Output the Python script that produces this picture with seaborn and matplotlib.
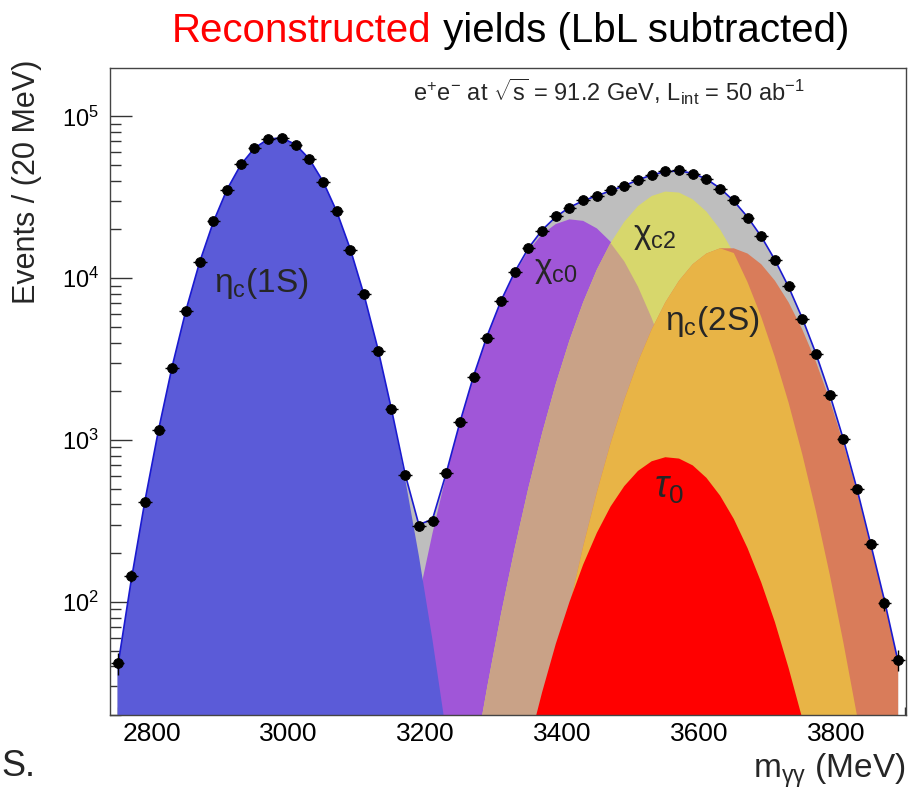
import numpy as np
import matplotlib
matplotlib.use("Agg")
import matplotlib.pyplot as plt
from matplotlib.ticker import MultipleLocator
import seaborn as sns

# bin centres (MeV), 20 MeV bins
mass = [2750, 2770, 2790, 2810, 2830, 2850, 2870, 2890, 2910, 2930,
        2950, 2970, 2990, 3010, 3030, 3050, 3070, 3090, 3110, 3130,
        3150, 3170, 3190, 3210, 3230, 3250, 3270, 3290, 3310, 3330,
        3350, 3370, 3390, 3410, 3430, 3450, 3470, 3490, 3510, 3530,
        3550, 3570, 3590, 3610, 3630, 3650, 3670, 3690, 3710, 3730,
        3750, 3770, 3790, 3810, 3830, 3850, 3870, 3890]

# pseudo-data points
counts = [42, 145, 412, 1160, 2800, 6300, 12600, 22500, 35200, 50500,
          63500, 72800, 73200, 66500, 54800, 39500, 26100, 15000, 7950, 3550,
          1560, 605, 296, 318, 622, 1290, 2450, 4250, 7200, 10900,
          15300, 19700, 24100, 27200, 30300, 32100, 34900, 37100, 40600, 43100,
          45800, 46800, 44200, 41200, 35700, 30200, 23700, 18200, 12900, 8900,
          5600, 3420, 1900, 1020, 500, 228, 98, 44]

# fitted components
eta_c1s = [39, 136, 420, 1160, 2870, 6350, 12600, 22300, 35400, 50200,
           63700, 72400, 73600, 67000, 54600, 39700, 25900, 15100, 7890, 3690,
           1540, 576, 193, 58, 15.5, 3.7, 0.8, 0, 0, 0,
           0, 0, 0, 0, 0, 0, 0, 0, 0, 0,
           0, 0, 0, 0, 0, 0, 0, 0, 0, 0,
           0, 0, 0, 0, 0, 0, 0, 0]

chi_c0 = [0, 0, 0, 0, 0, 0, 0, 0, 0, 0,
          0, 0, 0, 0, 0, 0, 0, 0, 1.2, 4.1,
          13.3, 39, 107, 266, 609, 1280, 2480, 4400, 7170, 10700,
          14800, 18700, 21600, 23100, 22600, 20300, 16800, 12700, 8870, 5670,
          3340, 1800, 893, 407, 170, 65, 23, 7.5, 2.2, 0.6,
          0, 0, 0, 0, 0, 0, 0, 0]

chi_c2 = [0, 0, 0, 0, 0, 0, 0, 0, 0, 0,
          0, 0, 0, 0, 0, 0, 0, 0, 0, 0,
          0, 0, 0, 0, 0, 3.1, 10, 30, 84, 214,
          506, 1100, 2220, 4130, 7100, 11300, 16500, 22300, 27900, 32200,
          34300, 33800, 30700, 25800, 20000, 14300, 9450, 5770, 3250, 1700,
          815, 362, 148, 56, 19.7, 6.4, 1.9, 0.5]

eta_c2s = [0, 0, 0, 0, 0, 0, 0, 0, 0, 0,
           0, 0, 0, 0, 0, 0, 0, 0, 0, 0,
           0, 0, 0, 0, 0, 0, 0, 0, 0, 0,
           4.6, 13.7, 37, 94, 220, 476, 954, 1770, 3040, 4820,
           7090, 9650, 12200, 14200, 15300, 15300, 14200, 12200, 9650, 7090,
           4820, 3040, 1770, 954, 476, 220, 100, 42]

tau_0 = [0, 0, 0, 0, 0, 0, 0, 0, 0, 0,
         0, 0, 0, 0, 0, 0, 0, 0, 0, 0,
         0, 0, 0, 0, 0, 0, 0, 0, 0, 5.6,
         12.9, 27.6, 55, 100, 170, 267, 388, 519, 644, 739,
         783, 768, 697, 584, 453, 325, 215, 132, 75, 39,
         19, 8.5, 3.5, 0, 0, 0, 0, 0]

x_ticks = [2800, 3000, 3200, 3400, 3600, 3800]

sns.set_style("ticks")
plt.rcParams['font.family'] = ['Liberation Sans', 'DejaVu Sans']
plt.rcParams['mathtext.fontset'] = 'custom'
plt.rcParams['mathtext.rm'] = 'Liberation Sans'
plt.rcParams['mathtext.it'] = 'Liberation Sans:italic'
plt.rcParams['mathtext.default'] = 'regular'

fig = plt.figure(figsize=(9.12, 7.89), dpi=100)
ax = fig.add_axes([0.1206, 0.0938, 0.8725, 0.8196])
ax.set_yscale('log')

m = np.array(mass, dtype=float)
n = np.array(counts, dtype=float)
base = 0.01
c1 = np.maximum(np.array(eta_c1s, dtype=float), base)
c0 = np.maximum(np.array(chi_c0, dtype=float), base)
c2 = np.maximum(np.array(chi_c2, dtype=float), base)
e2 = np.maximum(np.array(eta_c2s, dtype=float), base)
t0 = np.maximum(np.array(tau_0, dtype=float), base)
total = c1 + c0 + c2 + e2 + t0

# filled components (overlaps coloured like the hatched ROOT fills)
ax.fill_between(m, total, base, color='#bebebe', lw=0)
ax.fill_between(m, c0, base, color='#a056d8', lw=0)
ax.fill_between(m, c2, base, color='#d7d76c', lw=0)
ax.fill_between(m, np.minimum(c0, c2), base, color='#c9a287', lw=0)
ax.fill_between(m, e2, base, color='#d97c5a', lw=0)
ax.fill_between(m, np.minimum(e2, c2), base, color='#e8b446', lw=0)
ax.fill_between(m, c1, base, color='#5b5bd8', lw=0)
ax.fill_between(m, t0, base, color='#ff0000', lw=0)

sns.lineplot(x=m, y=total, color='#1a1ad0', lw=1.2, ax=ax)

ax.errorbar(m, n, xerr=10, yerr=np.sqrt(n), fmt='none', ecolor='black',
            elinewidth=1, capsize=0, zorder=4)
sns.scatterplot(x=m, y=n, color='black', s=50, edgecolor='black', ax=ax, zorder=5)

ax.set_xlim(2739, 3901)
ax.set_ylim(20, 1.98e5)
ax.set_xticks(x_ticks)
ax.xaxis.set_minor_locator(MultipleLocator(50))
ax.tick_params(axis='both', which='both', direction='in', top=False, right=False,
               colors='#333333', labelcolor='black')
ax.tick_params(axis='y', which='major', length=16, width=1, labelsize=17, pad=8)
ax.tick_params(axis='y', which='minor', length=8, width=1)
ax.tick_params(axis='x', which='major', length=12, width=1, labelsize=19, pad=5)
ax.tick_params(axis='x', which='minor', length=6, width=1)
for s in ax.spines.values():
    s.set_color('#444444')
    s.set_linewidth(1)
ax.set_xlabel('')
ax.set_ylabel('')

# labels
ax.text(2960, 9300, 'η$_{c}$(1S)', fontsize=24, ha='center', va='center')
ax.text(3390, 11200, 'χ$_{c0}$', fontsize=24, ha='center', va='center')
ax.text(3535, 18150, 'χ$_{c2}$', fontsize=24, ha='center', va='center')
ax.text(3618, 5430, 'η$_{c}$(2S)', fontsize=24, ha='center', va='center')
ax.text(3555, 506, r'$\mathit{\tau}_{0}$', fontsize=27, ha='center', va='center')
ax.text(0.381, 0.963, r'e$^{+}$e$^{-}$ at $\sqrt{s}$ = 91.2 GeV, L$_{int}$ = 50 ab$^{-1}$',
        transform=ax.transAxes, fontsize=17, ha='left', va='center')

t1 = fig.text(0.1886, 0.947, 'Reconstructed', color='red', fontsize=29,
              ha='left', va='baseline')
ax.annotate(' yields (LbL subtracted)', xy=(1, 0), xycoords=t1, fontsize=29,
            ha='left', va='bottom', color='black', annotation_clip=False)
fig.text(0.030, 0.924, 'Events / (20 MeV)', rotation=90, fontsize=22,
         ha='center', va='top')
fig.text(0.993, 0.014, 'm$_{γγ}$ (MeV)', fontsize=24, ha='right', va='baseline')
fig.text(0.002, 0.016, 'S.', fontsize=26, ha='left', va='baseline')

fig.savefig('out.png', dpi=100)
